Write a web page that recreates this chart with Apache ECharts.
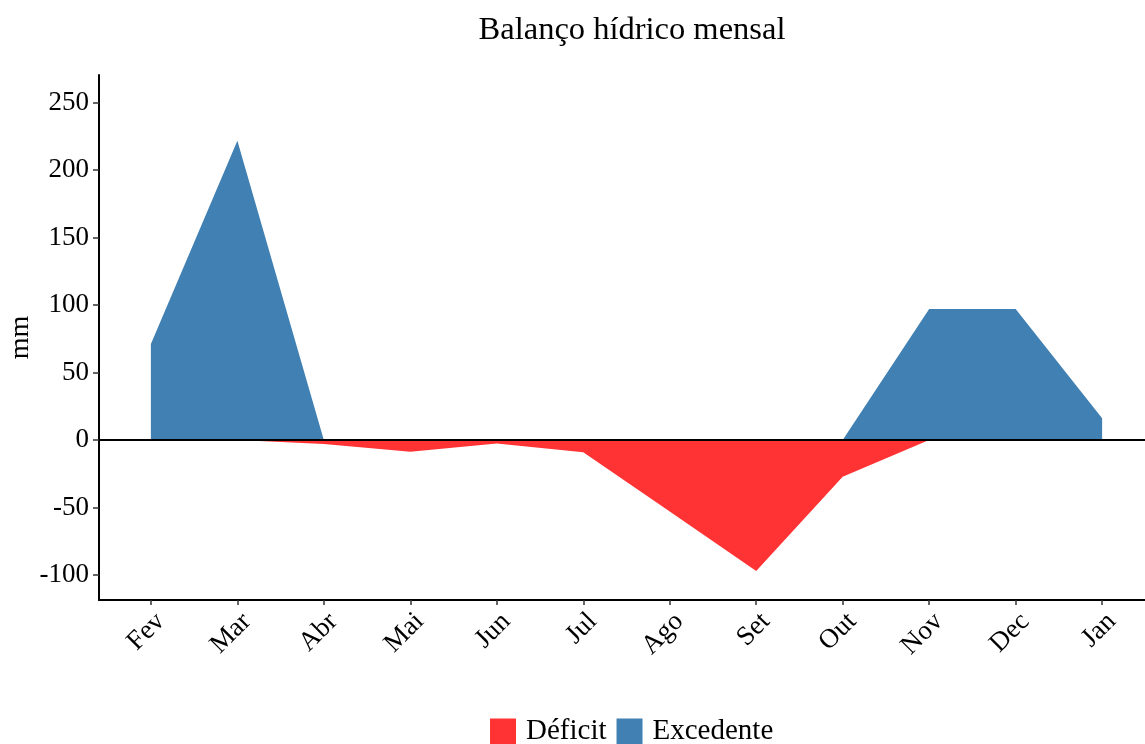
<!DOCTYPE html>
<html>
<head>
<meta charset="utf-8">
<script src="https://cdn.jsdelivr.net/npm/echarts@6/dist/echarts.min.js"></script>
<style>
html,body{margin:0;padding:0;background:#fff;}
#c{width:1145px;height:744px;}
</style>
</head>
<body>
<div id="c"></div>
<script>
const months = ['Fev','Mar','Abr','Mai','Jun','Jul','Ago','Set','Out','Nov','Dec','Jan'];
const deficit = [0, 0, -3, -8.7, -2.5, -9, -53, -97.1, -27.2, 0, 0, 0];
const excedente = [71.2, 221.9, 0, 0, 0, 0, 0, 0, 0, 97.1, 97.1, 16.1];
const yTicks = [-100, -50, 0, 50, 100, 150, 200, 250];
const xPos = months.map((m, i) => i + 1);

const FONT = '"Liberation Serif", "DejaVu Serif", serif';
const chart = echarts.init(document.getElementById('c'), null, {renderer: 'canvas'});

function toPairs(arr){ return arr.map((v, i) => [xPos[i], v]); }

chart.setOption({
  animation: false,
  backgroundColor: '#ffffff',
  title: {
    text: 'Balanço hídrico mensal',
    left: 627, textAlign: 'center', top: 9,
    textStyle: {fontFamily: FONT, fontSize: 32.5, fontWeight: 'normal', color: '#000'}
  },
  legend: {
    top: 717, left: 490, padding: 0,
    itemWidth: 26, itemHeight: 26, itemGap: 10,
    icon: 'rect',
    textStyle: {fontFamily: FONT, fontSize: 29, color: '#000', padding: [0,0,0,5]},
    data: ['Déficit', 'Excedente']
  },
  grid: {left: 99, right: -9, top: 75, bottom: 144, containLabel: false, outerBoundsMode: 'none'},
  xAxis: {
    type: 'value', min: 0.4, max: 12.6,
    axisLine: {show: true, onZero: false, lineStyle: {color: '#000', width: 2}},
    axisTick: {show: true, customValues: xPos, length: 5, lineStyle: {color: '#333', width: 1.5}},
    splitLine: {show: false},
    axisLabel: {
      customValues: xPos, rotate: 45, margin: 8, verticalAlign: 'top',
      fontFamily: FONT, fontSize: 27, color: '#000',
      formatter: v => months[Math.round(v) - 1]
    }
  },
  yAxis: {
    type: 'value', min: -118.6, max: 270.6,
    name: 'mm', nameLocation: 'middle', nameGap: 64, nameRotate: 90, nameMoveOverlap: false,
    nameTextStyle: {fontFamily: FONT, fontSize: 28, color: '#000'},
    axisLine: {show: true, onZero: false, lineStyle: {color: '#000', width: 2}},
    axisTick: {show: true, customValues: yTicks, length: 6, lineStyle: {color: '#333', width: 1.5}},
    splitLine: {show: false},
    axisLabel: {
      customValues: yTicks, margin: 10,
      fontFamily: FONT, fontSize: 27, color: '#000'
    }
  },
  series: [
    {
      name: 'Déficit', type: 'line', data: toPairs(deficit),
      showSymbol: false, symbol: 'none',
      lineStyle: {width: 0}, itemStyle: {color: '#FF3334'},
      areaStyle: {color: '#FF3334', opacity: 1, origin: 0},
      z: 2
    },
    {
      name: 'Excedente', type: 'line', data: toPairs(excedente),
      showSymbol: false, symbol: 'none',
      lineStyle: {width: 0}, itemStyle: {color: '#4180B2'},
      areaStyle: {color: '#4180B2', opacity: 1, origin: 0},
      z: 3,
      markLine: {
        silent: true, symbol: ['none', 'none'], label: {show: false},
        lineStyle: {color: '#000', width: 2, type: 'solid'},
        data: [{yAxis: 0}], z: 10
      }
    }
  ]
});
</script>
</body>
</html>
